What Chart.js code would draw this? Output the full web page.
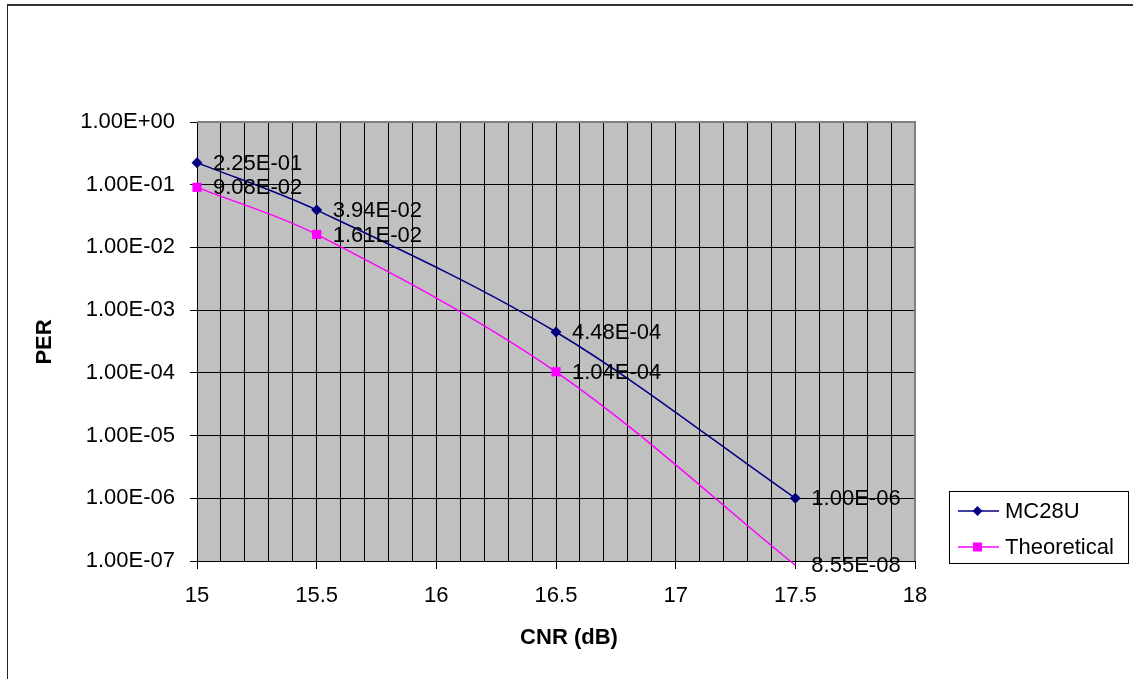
<!DOCTYPE html>
<html>
<head>
<meta charset="utf-8">
<title>PER vs CNR</title>
<script src="https://cdn.jsdelivr.net/npm/chart.js@4/dist/chart.umd.min.js"></script>
<style>
  html, body { margin: 0; padding: 0; background: #fff; overflow: hidden; }
  /* outer chart frame, runs off the right and bottom edges like the original */
  #frame {
    position: absolute; left: 7px; top: 4px; width: 2000px; height: 2000px;
    border-top: 2px solid #333; border-left: 1px solid #222;
  }
  #chart { position: absolute; left: 0; top: 0; }
</style>
</head>
<body>
<div id="frame"></div>
<canvas id="chart" width="1133" height="679"></canvas>
<script>
// ── DATA ───────────────────────────────────────────
const cnr         = [15, 15.5, 16.5, 17.5];               // CNR (dB)
const mc28u       = [2.25e-1, 3.94e-2, 4.48e-4, 1.00e-6]; // measured PER
const theoretical = [9.08e-2, 1.61e-2, 1.04e-4, 8.55e-8]; // theoretical PER
const seriesNames = ['MC28U', 'Theoretical'];
const yDecades    = [0, -1, -2, -3, -4, -5, -6, -7];      // y tick exponents
const xMin = 15, xMax = 18, xGridStep = 0.1, xLabelStep = 0.5;

const FONT = "'Liberation Sans', Arial, sans-serif";
const NAVY = '#000080';
const MAGENTA = '#FF00FF';
const yMin = Math.pow(10, Math.min(...yDecades));
const yMax = Math.pow(10, Math.max(...yDecades));

// 2.25e-1 -> "2.25E-01"
function sci(v) {
  const [m, e] = v.toExponential(2).split('e');
  const n = parseInt(e, 10);
  return m + 'E' + (n < 0 ? '-' : '+') + String(Math.abs(n)).padStart(2, '0');
}

function isLabelTick(v) {
  const k = (v - xMin) / xLabelStep;
  return Math.abs(k - Math.round(k)) < 1e-6;
}

// ── PLUGINS ────────────────────────────────────────
// gray plot background + gray frame on top/right
const plotArea = {
  id: 'plotArea',
  beforeDraw(chart) {
    const { ctx, chartArea: a } = chart;
    ctx.save();
    ctx.fillStyle = '#C0C0C0';
    ctx.fillRect(a.left, a.top, a.right - a.left, a.bottom - a.top);
    ctx.restore();
  },
  beforeDatasetsDraw(chart) {
    const { ctx, chartArea: a } = chart;
    ctx.save();
    ctx.strokeStyle = '#808080';
    ctx.lineWidth = 2;
    ctx.beginPath();
    ctx.moveTo(a.left, a.top);
    ctx.lineTo(a.right, a.top);
    ctx.lineTo(a.right, a.bottom);
    ctx.stroke();
    ctx.restore();
  }
};

// value labels to the right of every point
const pointLabels = {
  id: 'pointLabels',
  afterDatasetsDraw(chart) {
    const { ctx } = chart;
    ctx.save();
    ctx.font = '22px ' + FONT;
    ctx.fillStyle = '#000';
    ctx.textAlign = 'left';
    ctx.textBaseline = 'middle';
    chart.data.datasets.forEach((ds, i) => {
      chart.getDatasetMeta(i).data.forEach((pt, j) => {
        ctx.fillText(sci(ds.data[j].y), pt.x + 16, pt.y + 1);
      });
    });
    ctx.restore();
  }
};

// axis titles + boxed legend on the right
const extras = {
  id: 'extras',
  afterDraw(chart) {
    const { ctx } = chart;
    ctx.save();
    ctx.fillStyle = '#000';
    ctx.font = 'bold 22px ' + FONT;
    ctx.textAlign = 'center';
    ctx.textBaseline = 'middle';
    ctx.fillText('CNR (dB)', 569, 638);
    ctx.translate(45, 342);
    ctx.rotate(-Math.PI / 2);
    ctx.fillText('PER', 0, 0);
    ctx.restore();

    // legend box
    ctx.save();
    ctx.fillStyle = '#fff';
    ctx.fillRect(949, 491, 179, 72);
    ctx.strokeStyle = '#000';
    ctx.lineWidth = 1;
    ctx.strokeRect(949.5, 491.5, 179, 72);
    ctx.font = '22px ' + FONT;
    ctx.textAlign = 'left';
    ctx.textBaseline = 'middle';
    chart.data.datasets.forEach((ds, i) => {
      const y = 511 + i * 36;
      ctx.strokeStyle = ds.borderColor;
      ctx.lineWidth = 1.5;
      ctx.beginPath();
      ctx.moveTo(958, y);
      ctx.lineTo(999, y);
      ctx.stroke();
      ctx.fillStyle = ds.backgroundColor;
      ctx.beginPath();
      if (ds.pointStyle === 'rectRot') {
        ctx.moveTo(977.5, y - 5); ctx.lineTo(982.5, y);
        ctx.lineTo(977.5, y + 5); ctx.lineTo(972.5, y);
      } else {
        ctx.rect(973, y - 4.5, 9, 9);
      }
      ctx.closePath();
      ctx.fill();
      ctx.fillStyle = '#000';
      ctx.fillText(ds.label, 1005, y + 1);
    });
    ctx.restore();
  }
};

// ── CHART ──────────────────────────────────────────
const toPoints = ys => cnr.map((x, i) => ({ x: x, y: ys[i] }));
const hideOutside = r => ctx => (ctx.raw && ctx.raw.y < yMin ? 0 : r);

new Chart(document.getElementById('chart').getContext('2d'), {
  type: 'line',
  data: {
    datasets: [
      {
        label: seriesNames[0],
        data: toPoints(mc28u),
        borderColor: NAVY,
        backgroundColor: NAVY,
        borderWidth: 1.5,
        pointStyle: 'rectRot',
        pointRadius: hideOutside(5.5),
        pointBorderWidth: 0,
        tension: 0.33,
        clip: false
      },
      {
        label: seriesNames[1],
        data: toPoints(theoretical),
        borderColor: MAGENTA,
        backgroundColor: MAGENTA,
        borderWidth: 1.5,
        pointStyle: 'rect',
        pointRadius: hideOutside(6.5),
        pointBorderWidth: 0,
        tension: 0.33,
        clip: false
      }
    ]
  },
  options: {
    responsive: false,
    animation: false,
    devicePixelRatio: 1,
    layout: { padding: { left: 0, top: 122, right: 218, bottom: 0 } },
    plugins: {
      legend: { display: false },
      tooltip: { enabled: false }
    },
    scales: {
      x: {
        type: 'linear',
        min: xMin,
        max: xMax,
        afterFit: s => { s.height = 118; },
        ticks: {
          stepSize: xGridStep,
          autoSkip: false,
          maxRotation: 0,
          padding: 14,
          color: '#000',
          font: { family: FONT, size: 22 },
          callback: v => (isLabelTick(v) ? String(Math.round(v * 10) / 10) : '')
        },
        grid: {
          color: '#000',
          lineWidth: 1,
          tickLength: 8,
          tickColor: c => (c.tick && isLabelTick(c.tick.value) ? '#000' : 'rgba(0,0,0,0)')
        },
        border: { color: '#000', width: 1 }
      },
      y: {
        type: 'logarithmic',
        min: yMin,
        max: yMax,
        afterFit: s => { s.width = 197; },
        afterBuildTicks: s => { s.ticks = yDecades.map(e => ({ value: Math.pow(10, e) })); },
        ticks: {
          padding: 15,
          color: '#000',
          font: { family: FONT, size: 22 },
          callback: v => sci(v)
        },
        grid: { color: '#000', lineWidth: 1, tickLength: 7, tickColor: '#000' },
        border: { color: '#000', width: 1 }
      }
    }
  },
  plugins: [plotArea, pointLabels, extras]
});
</script>
</body>
</html>
